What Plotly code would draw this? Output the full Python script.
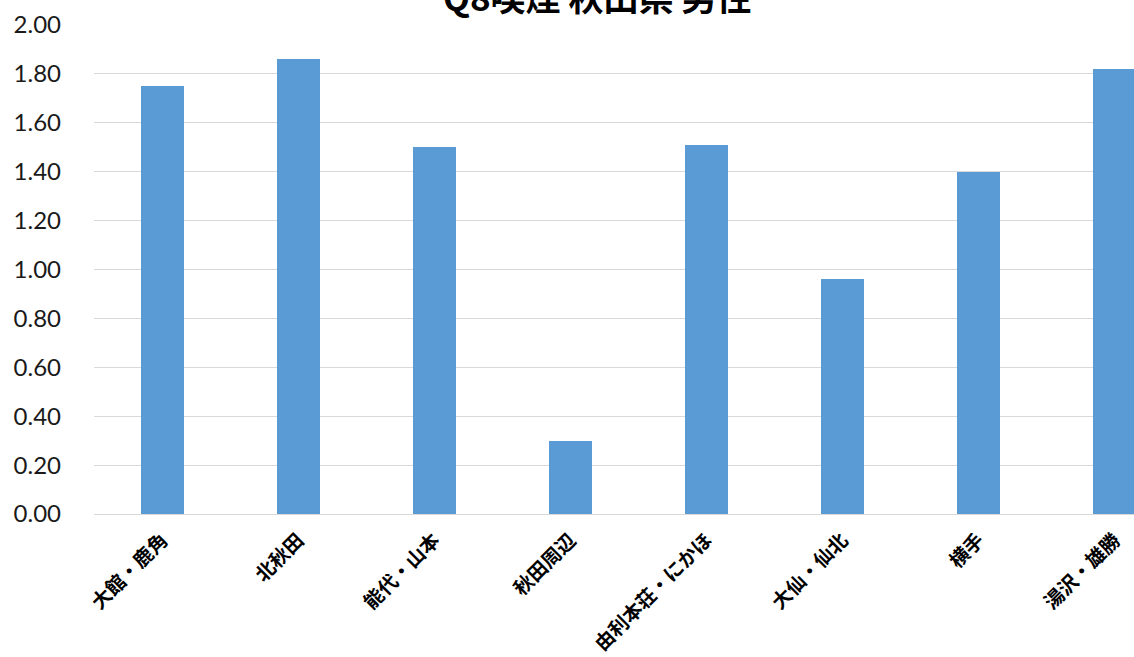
import plotly.graph_objects as go

categories = ["大館・鹿角", "北秋田", "能代・山本", "秋田周辺", "由利本荘・にかほ", "大仙・仙北", "横手", "湯沢・雄勝"]
values = [1.75, 1.86, 1.50, 0.30, 1.51, 0.96, 1.40, 1.82]
tick_vals = [0, 0.2, 0.4, 0.6, 0.8, 1.0, 1.2, 1.4, 1.6, 1.8, 2.0]
tick_text = ["%.2f" % v for v in tick_vals]
title_text = "Q8喫煙 秋田県 男性"

W, H = 1134, 657
ml, mr, mt, mb = 94, 0, 25, 143

fig = go.Figure(go.Bar(
    x=list(range(len(categories))), y=values,
    marker=dict(color="#5b9bd5", line=dict(width=0)),
    width=0.316,
))

fig.update_layout(
    width=W, height=H,
    margin=dict(l=ml, r=mr, t=mt, b=mb, autoexpand=False),
    plot_bgcolor="white", paper_bgcolor="white",
    showlegend=False,
    bargap=0,
)
fig.update_xaxes(
    tickmode="array", tickvals=list(range(len(categories))), ticktext=categories,
    tickangle=-45, range=[-0.5, 7.143], automargin=False,
    tickfont=dict(family="Noto Sans CJK JP", size=19.5, color="#000000", weight="bold"),
    showgrid=False, zeroline=False, showline=False, ticks="",
    ticklabelstandoff=10,
)
fig.update_yaxes(
    range=[0, 2.0], tickmode="array", tickvals=tick_vals, ticktext=tick_text,
    automargin=False,
    tickfont=dict(family="Lato", size=24, color="#1a1a1a"),
    showgrid=True, gridcolor="#d9d9d9", gridwidth=1,
    zeroline=True, zerolinecolor="#d9d9d9", zerolinewidth=1,
    showline=False, ticks="", ticklabelstandoff=32,
)

plot_h = H - mt - mb
plot_w = W - ml - mr
fig.add_annotation(
    text=title_text, xref="paper", yref="paper",
    x=(597 - ml) / plot_w, y=1 + (mt + 4) / plot_h,
    xanchor="center", yanchor="middle", showarrow=False,
    font=dict(family="Noto Sans CJK JP", size=35, color="#000000", weight="bold"),
)

fig.write_html(
    "out.html",
    config={"displayModeBar": False},
    post_script="document.body.style.margin='0';document.body.style.overflow='hidden';",
)
